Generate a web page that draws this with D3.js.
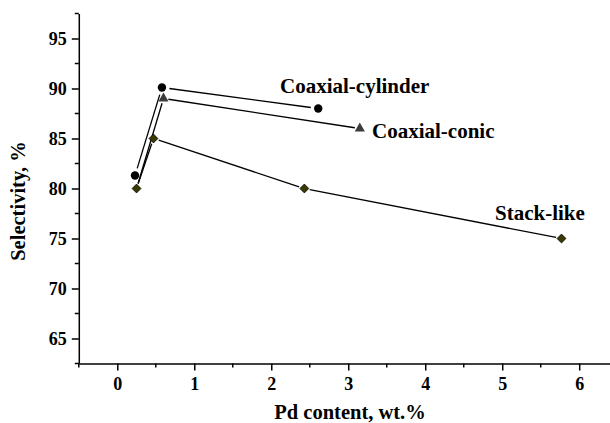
<!DOCTYPE html>
<html>
<head>
<meta charset="utf-8">
<script src="https://cdn.jsdelivr.net/npm/d3@7"></script>
<style>
  body { margin: 0; background: #fff; }
  text { font-family: "Liberation Serif", "Times New Roman", serif; font-weight: bold; }
</style>
</head>
<body>
<div id="chart"></div>
<script>
// Pd content (wt.%) vs selectivity (%)
const cylinderX = [0.23, 0.58, 2.61]
const cylinderY = [81.3, 90.1, 88.0]
const conicX = [0.25, 0.60, 3.15]
const conicY = [80.0, 89.0, 86.0]
const stackX = [0.25, 0.47, 2.43, 5.77]
const stackY = [80.0, 85.0, 80.0, 75.0]

const xTicks = [0, 1, 2, 3, 4, 5, 6]
const yTicks = [65, 70, 75, 80, 85, 90, 95]
const seriesNames = ['Coaxial-cylinder', 'Coaxial-conic', 'Stack-like']

const width = 610, height = 423

const x = d3.scaleLinear().domain([-0.5, 6.4]).range([78.8, 610])
const y = d3.scaleLinear().domain([62.5, 97.5]).range([363.5, 13.5])

const svg = d3.select('#chart').append('svg')
  .attr('width', width)
  .attr('height', height)

// axes: major ticks with labels, minor ticks in between
const xAxis = svg.append('g')
  .attr('transform', `translate(0, ${y(62.5)})`)
  .call(d3.axisBottom(x).tickValues(xTicks).tickFormat(d3.format('d')).tickSize(7).tickSizeOuter(0).tickPadding(7))
xAxis.append('g').selectAll('line')
  .data(d3.range(-0.5, 6.4, 1))
  .join('line')
  .attr('x1', d => x(d)).attr('x2', d => x(d))
  .attr('y1', 0).attr('y2', 4)
  .attr('stroke', '#000').attr('stroke-width', 1.5)

const yAxis = svg.append('g')
  .attr('transform', `translate(${x(-0.5)}, 0)`)
  .call(d3.axisLeft(y).tickValues(yTicks).tickSize(7).tickSizeOuter(0).tickPadding(5))
yAxis.append('g').selectAll('line')
  .data(d3.range(62.5, 98, 5))
  .join('line')
  .attr('y1', d => y(d)).attr('y2', d => y(d))
  .attr('x1', 0).attr('x2', -4)
  .attr('stroke', '#000').attr('stroke-width', 1.5)

svg.selectAll('.domain, .tick line').attr('stroke', '#000').attr('stroke-width', 1.5)
svg.selectAll('.tick text')
  .attr('fill', '#000')
  .style('font-size', '18px')
  .style('font-family', '"Liberation Serif", serif')
  .style('font-weight', 'bold')

// axis titles
svg.append('text')
  .attr('x', 350).attr('y', 419)
  .attr('text-anchor', 'middle')
  .style('font-size', '20.5px')
  .text('Pd content, wt.%')

svg.append('text')
  .attr('transform', `translate(25, 201) rotate(-90)`)
  .attr('text-anchor', 'middle')
  .style('font-size', '20.5px')
  .text('Selectivity, %')

// lines drawn with a gap around each marker
function drawSeries(xs, ys, gap) {
  const pts = xs.map((d, i) => [x(d), y(ys[i])])
  for (let i = 0; i < pts.length - 1; i++) {
    const [x0, y0] = pts[i], [x1, y1] = pts[i + 1]
    const len = Math.hypot(x1 - x0, y1 - y0)
    const ux = (x1 - x0) / len, uy = (y1 - y0) / len
    svg.append('line')
      .attr('x1', x0 + ux * gap).attr('y1', y0 + uy * gap)
      .attr('x2', x1 - ux * gap).attr('y2', y1 - uy * gap)
      .attr('stroke', '#000')
      .attr('stroke-width', 1.3)
  }
  return pts
}

const cylPts = drawSeries(cylinderX, cylinderY, 7.5)
const conPts = drawSeries(conicX, conicY, 5)
const stkPts = drawSeries(stackX, stackY, 5.5)

svg.append('g').selectAll('path')
  .data(conPts.slice(1))
  .join('path')
  .attr('transform', d => `translate(${d[0]}, ${d[1]})`)
  .attr('d', d3.symbol(d3.symbolTriangle, 45))
  .attr('fill', '#3c3c3c')

svg.append('g').selectAll('circle')
  .data(cylPts)
  .join('circle')
  .attr('cx', d => d[0]).attr('cy', d => d[1])
  .attr('r', 4.2)
  .attr('fill', '#000')

svg.append('g').selectAll('path')
  .data(stkPts)
  .join('path')
  .attr('transform', d => `translate(${d[0]}, ${d[1]})`)
  .attr('d', d3.symbol(d3.symbolDiamond2, 50))
  .attr('fill', '#3a3a00')
  .attr('stroke', '#000')
  .attr('stroke-width', 0.8)

// series labels
const labelPos = [[280, 93], [372, 138], [495, 220]]
svg.append('g').selectAll('text')
  .data(seriesNames)
  .join('text')
  .attr('x', (d, i) => labelPos[i][0])
  .attr('y', (d, i) => labelPos[i][1])
  .style('font-size', '21px')
  .text(d => d)
</script>
</body>
</html>
